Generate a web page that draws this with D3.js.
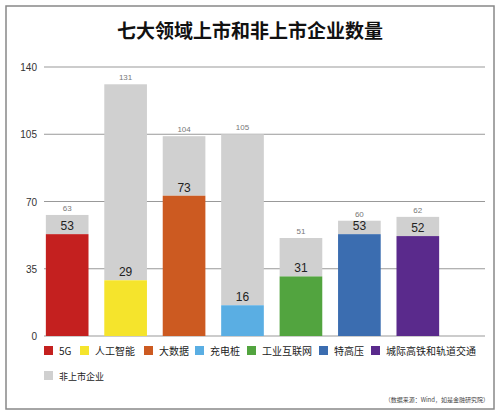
<!DOCTYPE html>
<html><head><meta charset="utf-8">
<script src="https://cdn.jsdelivr.net/npm/d3@7"></script>
<style>body{margin:0;background:#fff;font-family:"Noto Sans CJK SC","Liberation Sans",sans-serif}</style>
</head><body>
<svg width="500" height="415"></svg>
<script>
var categories = ['5G', '人工智能', '大数据', '充电桩', '工业互联网', '特高压', '城际高铁和轨道交通'];
var listed = [53, 29, 73, 16, 31, 53, 52];
var totals = [63, 131, 104, 105, 51, 60, 62];
var colors = ['#c4201f', '#f5e42c', '#cc5a21', '#5aaee3', '#52a43f', '#3b6db0', '#5a2a8c'];
var ticks = [0, 35, 70, 105, 140];
var greyColor = '#d0d0d0';

var svg = d3.select('svg');
svg.append('rect').attr('x', 6).attr('y', 6).attr('width', 488).attr('height', 403)
    .attr('fill', 'none').attr('stroke', '#888').attr('stroke-width', 1.5);
svg.append('text').attr('x', 250).attr('y', 38).attr('text-anchor', 'middle')
    .attr('font-size', 19).attr('font-weight', 'bold').attr('fill', '#111')
    .text('七大领域上市和非上市企业数量');

var y = d3.scaleLinear().domain([0, 140]).range([336, 67]);
var x = d3.scaleBand().domain(categories).range([40, 445]).paddingInner(0.27).paddingOuter(0.1);

svg.selectAll('.grid').data(ticks).enter().append('line')
    .attr('x1', 44).attr('x2', 485)
    .attr('y1', function (d) { return y(d); }).attr('y2', function (d) { return y(d); })
    .attr('stroke', '#999').attr('stroke-width', 1);
svg.selectAll('.tick').data(ticks).enter().append('text')
    .attr('x', 37).attr('y', function (d) { return y(d) + 4; })
    .attr('text-anchor', 'end').attr('font-size', 10).attr('fill', '#333')
    .attr('font-family', 'Liberation Sans').text(function (d) { return d; });

var g = svg.selectAll('.bar').data(categories).enter().append('g');
g.append('rect')
    .attr('x', function (d) { return x(d); }).attr('width', x.bandwidth())
    .attr('y', function (d, i) { return y(totals[i]); })
    .attr('height', function (d, i) { return y(listed[i]) - y(totals[i]); })
    .attr('fill', greyColor);
g.append('rect')
    .attr('x', function (d) { return x(d); }).attr('width', x.bandwidth())
    .attr('y', function (d, i) { return y(listed[i]); })
    .attr('height', function (d, i) { return y(0) - y(listed[i]); })
    .attr('fill', function (d, i) { return colors[i]; });
g.append('text')
    .attr('x', function (d) { return x(d) + x.bandwidth() / 2; })
    .attr('y', function (d, i) { return y(totals[i]) - 4; })
    .attr('text-anchor', 'middle').attr('font-size', 8).attr('fill', '#777')
    .attr('font-family', 'Liberation Sans').text(function (d, i) { return totals[i]; });
g.append('text')
    .attr('x', function (d) { return x(d) + x.bandwidth() / 2; })
    .attr('y', function (d, i) { return y(listed[i]) - 4; })
    .attr('text-anchor', 'middle').attr('font-size', 12).attr('fill', '#222')
    .attr('font-family', 'Liberation Sans').text(function (d, i) { return listed[i]; });

// legend
var legX = [44, 80, 144, 195, 247, 319, 371];
var leg = svg.selectAll('.leg').data(categories).enter().append('g')
    .attr('transform', function (d, i) { return 'translate(' + legX[i] + ',346)'; });
leg.append('rect').attr('width', 9).attr('height', 9).attr('fill', function (d, i) { return colors[i]; });
leg.append('text').attr('x', 15).attr('y', 8.5).attr('font-size', 10).attr('fill', '#222')
    .text(function (d) { return d; });
var lg = svg.append('g').attr('transform', 'translate(44,371)');
lg.append('rect').attr('width', 9).attr('height', 9).attr('fill', greyColor);
lg.append('text').attr('x', 15).attr('y', 8.5).attr('font-size', 9).attr('fill', '#222').text('非上市企业');

svg.append('text').attr('x', 489).attr('y', 402).attr('text-anchor', 'end')
    .attr('font-size', 6).attr('fill', '#444').text('（数据来源：Wind，如是金融研究院）');
</script>
</body></html>
